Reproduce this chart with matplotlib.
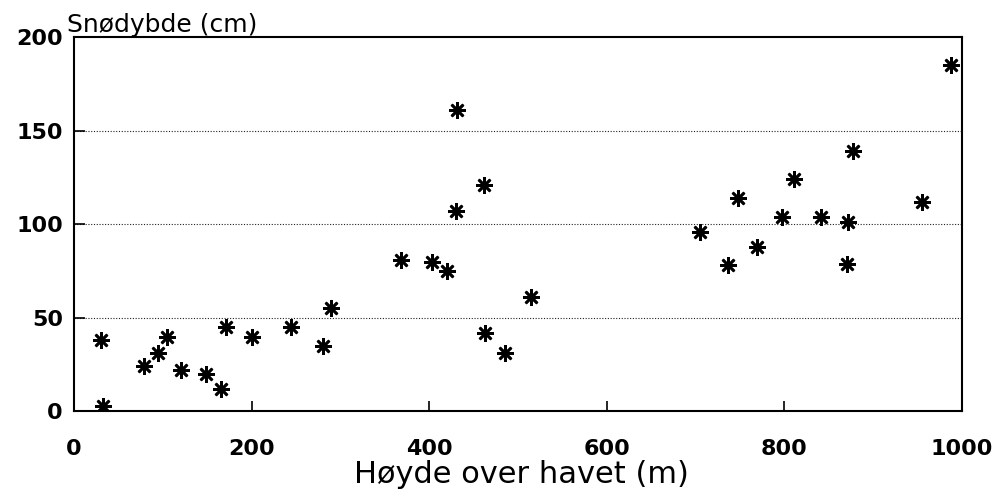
import numpy as np
from matplotlib import pyplot as plt

# hoyde over havet (m) og snodybde (cm), lest av figuren
hoyde = [31, 33, 79, 95, 105, 121, 149, 166, 171, 201, 244, 280, 290,
         368, 403, 420, 463, 485, 515, 431, 462, 430,
         705, 737, 748, 769, 797, 811, 841, 871, 872, 877, 955, 988]
snodybde = [38, 3, 24, 31, 40, 22, 20, 12, 45, 40, 45, 35, 55,
            81, 80, 75, 42, 31, 61, 161, 121, 107,
            96, 78, 114, 88, 104, 124, 104, 79, 101, 139, 112, 185]

x_ticks = [0, 200, 400, 600, 800, 1000]
y_ticks = [0, 50, 100, 150, 200]
grid_levels = [50, 100, 150]

fig = plt.figure(figsize=(9.99, 4.98), dpi=100)
ax = fig.add_axes([0.074, 0.174, 0.889, 0.751])

for g in grid_levels:
    ax.axhline(g, color="#222222", lw=0.8, linestyle=(0, (1, 1.5)), zorder=1)

ax.plot(
    hoyde,
    snodybde,
    linestyle="none",
    marker=(8, 2, 0),
    markersize=12,
    markeredgewidth=1.9,
    color="black",
    zorder=3,
)

ax.set_xlim(0, 1000)
ax.set_ylim(0, 200)
ax.set_xticks(x_ticks)
ax.set_yticks(y_ticks)
ax.tick_params(axis="x", direction="in", length=7, width=1.2, pad=20,
               labelsize=16)
ax.tick_params(axis="y", direction="in", length=8, width=1.2, pad=8,
               labelsize=16)
for lab in ax.get_xticklabels() + ax.get_yticklabels():
    lab.set_fontweight("bold")
for s in ax.spines.values():
    s.set_linewidth(1.5)

fig.text(0.067, 0.935, "Snødybde (cm)", fontsize=18, ha="left",
         va="baseline", fontweight="medium")
fig.text(0.522, 0.03, "Høyde over havet (m)", fontsize=22, ha="center",
         va="baseline", fontweight="medium")

fig.savefig("out.png", dpi=100)
